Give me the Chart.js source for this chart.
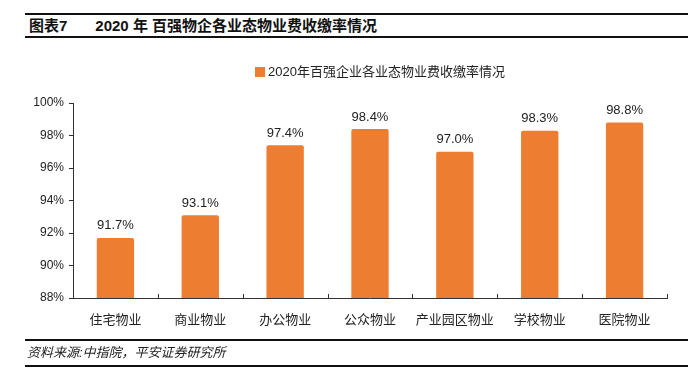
<!DOCTYPE html>
<html>
<head>
<meta charset="utf-8">
<script src="https://cdn.jsdelivr.net/npm/chart.js@4"></script>
<style>
  body { margin: 0; width: 698px; height: 372px; background: #fff; position: relative; overflow: hidden;
         font-family: "Liberation Sans", "Noto Sans CJK SC", sans-serif; color: #111; }
  .rule { position: absolute; left: 25px; width: 663px; height: 0; border-top: 2px solid #111; }
  #title { position: absolute; left: 29px; top: 15px; font-size: 15px; font-weight: bold; line-height: 21px; }
  #title span { margin-left: 28px; }
  #source { position: absolute; left: 27px; top: 343px; font-size: 13px; font-style: italic; line-height: 20px; color: #222; }
  #wrap { position: absolute; left: 0; top: 0; width: 698px; height: 372px; }
</style>
</head>
<body>
<div class="rule" style="top:13px"></div>
<div id="title">图表7<span>2020 年 百强物企各业态物业费收缴率情况</span></div>
<div class="rule" style="top:36px"></div>
<div id="wrap"><canvas id="chart"></canvas></div>
<div class="rule" style="top:339px"></div>
<div id="source">资料来源:中指院，平安证券研究所</div>
<div class="rule" style="top:365px"></div>

<script>
// 数据
const categories = ["住宅物业", "商业物业", "办公物业", "公众物业", "产业园区物业", "学校物业", "医院物业"];
const collectionRate = [91.7, 93.1, 97.4, 98.4, 97.0, 98.3, 98.8];
const seriesName = "2020年百强企业各业态物业费收缴率情况";

const FONT = "'Liberation Sans', 'Noto Sans CJK SC', sans-serif";
const BAR_COLOR = "#ED7D31";

// 图例 + 柱顶数值标签 + x轴内侧刻度
const extras = {
    id: "extras",
    afterDatasetsDraw(chart) {
        const ctx = chart.ctx;
        const meta = chart.getDatasetMeta(0);
        ctx.save();
        ctx.fillStyle = "#222";
        ctx.font = "13px " + FONT;
        ctx.textAlign = "center";
        ctx.textBaseline = "middle";
        meta.data.forEach((bar, i) => {
            ctx.fillText(collectionRate[i].toFixed(1) + "%", bar.x, bar.y - 12);
        });

        // x轴刻度朝上
        const x = chart.scales.x;
        const step = (x.right - x.left) / categories.length;
        ctx.strokeStyle = "#333";
        ctx.lineWidth = 1;
        for (let i = 1; i <= categories.length; i++) {
            const px = Math.round(x.left + step * i) + 0.5;
            ctx.beginPath();
            ctx.moveTo(px, x.top);
            ctx.lineTo(px, x.top - 4);
            ctx.stroke();
        }

        // 图例
        const area = chart.chartArea;
        ctx.font = "13px " + FONT;
        const tw = ctx.measureText(seriesName).width;
        const lx = (area.left + area.right) / 2 + 10 - (tw + 13) / 2;
        const ly = area.top - 31;
        ctx.fillStyle = BAR_COLOR;
        ctx.fillRect(lx, ly - 5, 10, 10);
        ctx.fillStyle = "#222";
        ctx.textAlign = "left";
        ctx.fillText(seriesName, lx + 13, ly);
        ctx.restore();
    }
};

new Chart(document.getElementById("chart"), {
    type: "bar",
    data: {
        labels: categories,
        datasets: [{
            label: seriesName,
            data: collectionRate,
            backgroundColor: BAR_COLOR,
            borderRadius: { topLeft: 2, topRight: 2 },
            borderSkipped: "bottom",
            categoryPercentage: 0.44,
            barPercentage: 1
        }]
    },
    options: {
        responsive: true,
        maintainAspectRatio: false,
        animation: false,
        layout: { padding: { top: 103, left: 0, right: 31, bottom: 0 } },
        plugins: {
            legend: { display: false },
            tooltip: { enabled: false }
        },
        scales: {
            x: {
                afterFit: s => { s.height = 74; },
                grid: { display: false },
                border: { color: "#333" },
                ticks: { font: { size: 13, family: FONT }, color: "#222", padding: 7 }
            },
            y: {
                min: 88,
                max: 100,
                afterFit: s => { s.width = 73; },
                grid: { drawOnChartArea: false, tickLength: 4, color: "#333" },
                border: { color: "#333" },
                ticks: {
                    stepSize: 2,
                    font: { size: 12, family: FONT },
                    color: "#222",
                    padding: 5,
                    callback: v => v + "%"
                }
            }
        }
    },
    plugins: [extras]
});
</script>
</body>
</html>
